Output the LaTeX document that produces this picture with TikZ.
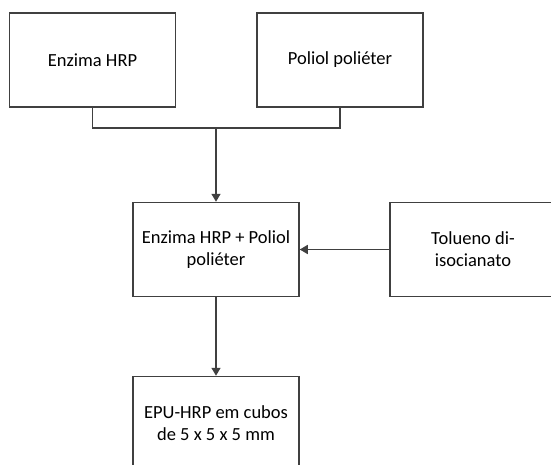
\documentclass[tikz,border=0pt]{standalone}
\usepackage{fontspec}
\setmainfont{Carlito}
\usetikzlibrary{arrows.meta}
\definecolor{linec}{HTML}{404040}
\begin{document}
\begin{tikzpicture}[x=1pt,y=-1pt,
  stepbox/.style={draw=linec, line width=1.5pt, fill=white, minimum width=166pt, minimum height=94pt,
    inner sep=0pt, align=center, font=\fontsize{18.5}{22}\selectfont},
  conn/.style={draw=linec, line width=1.5pt},
  arr/.style={conn, -{Triangle[length=8pt,width=9pt]}}]
\clip (0,0) rectangle (551,464);
\fill[white] (0,0) rectangle (551,464);
\node[stepbox] (a) at (92.5,60) {Enzima HRP};
\node[stepbox] (b) at (340,60) {Poliol poliéter};
\node[stepbox] (c) at (216,249.5) {Enzima HRP + Poliol\\poliéter};
\node[stepbox] (d) at (473,249.5) {Tolueno di-\\isocianato};
\node[stepbox] (e) at (216,423.5) {EPU-HRP em cubos\\de 5 x 5 x 5 mm};
\coordinate (j) at (216,128);
\draw[conn] (a.south) |- (j) -| (b.south);
\draw[arr] (j) -- (c.north);
\draw[arr] (d.west) -- (c.east);
\draw[arr] (c.south) -- (e.north);
\end{tikzpicture}
\end{document}
